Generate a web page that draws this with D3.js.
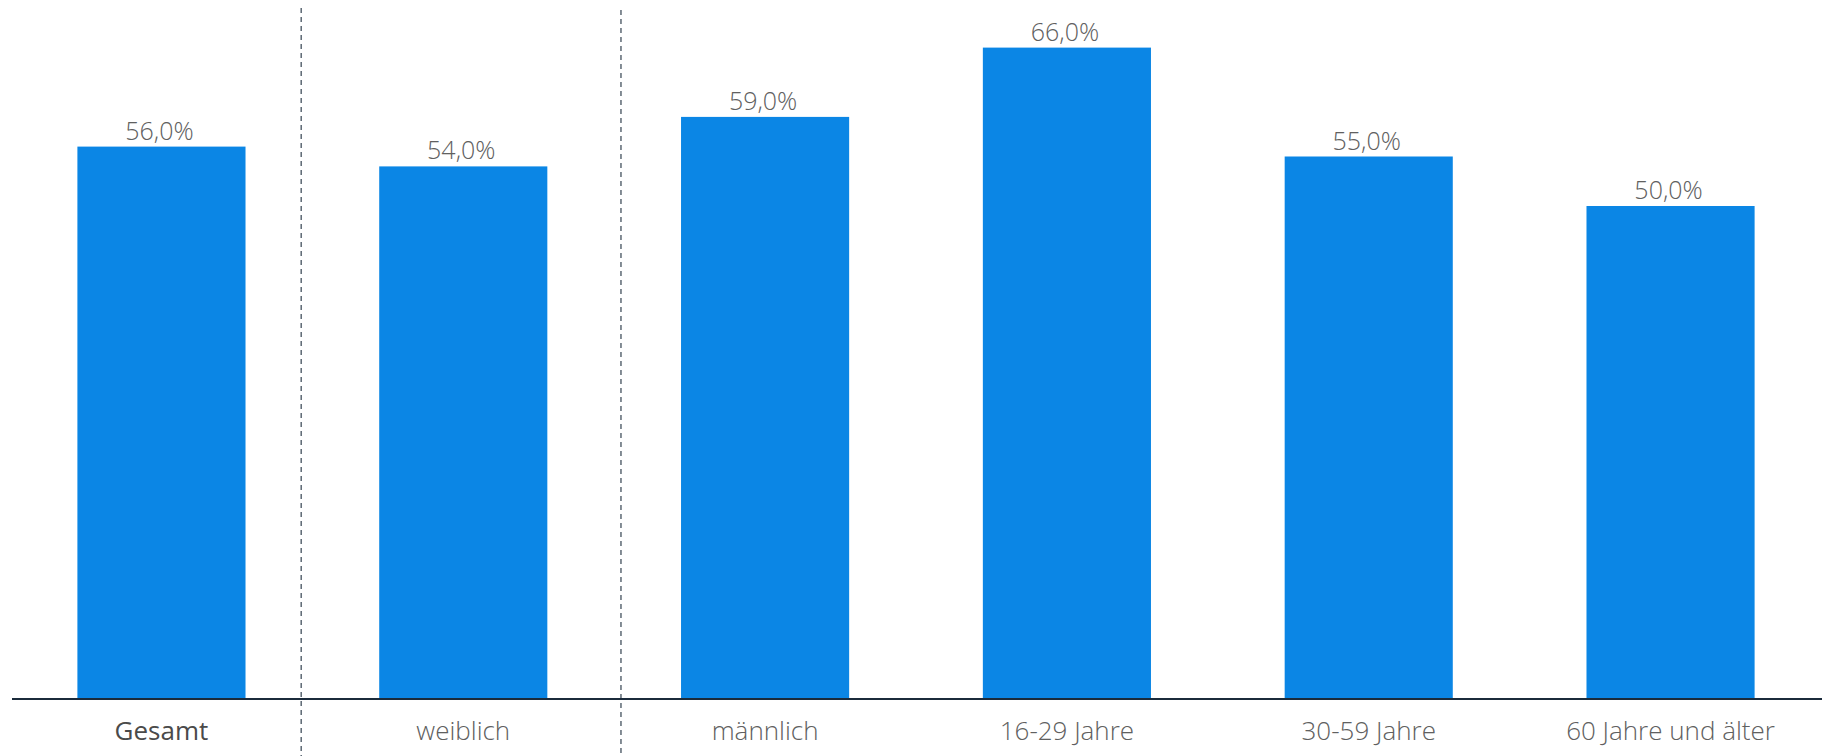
<!DOCTYPE html>
<html lang="de">
<head>
<meta charset="utf-8">
<script src="https://cdn.jsdelivr.net/npm/d3@7"></script>
<style>
  html, body { margin: 0; padding: 0; background: #ffffff; }
  svg { display: block; }
  text { font-family: "Open Sans", "Noto Sans", sans-serif; }
</style>
</head>
<body>
<svg id="chart" width="1825" height="756"></svg>
<script>
// Anteil je Bevölkerungsgruppe (in Prozent)
const categories = ["Gesamt", "weiblich", "männlich", "16-29 Jahre", "30-59 Jahre", "60 Jahre und älter"];
const values = [56, 54, 59, 66, 55, 50];
// Trennlinien zwischen den Gruppen (Gesamt | Geschlecht | Alter), in Slot-Einheiten
const separators = [0.962, 2.022];
const emphasized = ["Gesamt"];

const width = 1825, height = 756;
const svg = d3.select("#chart");

const x = d3.scaleBand()
  .domain(categories)
  .range([11, 1821])
  .paddingInner(0.443)
  .paddingOuter(0.22);

const y = d3.scaleLinear()
  .domain([0, 70])
  .range([701, 8]);

const slot = d3.scaleLinear()
  .domain([0, categories.length])
  .range(x.range());

const fmt = v => d3.format(".1f")(v).replace(".", ",") + "%";

// Balken
svg.append("g")
  .selectAll("rect")
  .data(values)
  .join("rect")
  .attr("x", (d, i) => x(categories[i]))
  .attr("y", d => y(d))
  .attr("width", x.bandwidth())
  .attr("height", d => y(0) - y(d) - 3)
  .attr("fill", "#0b86e5");

// Wertbeschriftungen
svg.append("g")
  .selectAll("text")
  .data(values)
  .join("text")
  .attr("x", (d, i) => x(categories[i]) + x.bandwidth() / 2 - 2)
  .attr("y", d => y(d) - 7)
  .attr("text-anchor", "middle")
  .attr("font-size", 25)
  .attr("font-weight", 300)
  .attr("fill", "#606060")
  .text(d => fmt(d));

// Gestrichelte Trennlinien
svg.append("g")
  .selectAll("line")
  .data(separators)
  .join("line")
  .attr("x1", d => slot(d))
  .attr("x2", d => slot(d))
  .attr("y1", (d, i) => 8 + i * 2)
  .attr("y2", height)
  .attr("stroke", "#5c6873")
  .attr("stroke-width", 1.5)
  .attr("stroke-dasharray", "5,4");

// x-Achse
const xAxis = d3.axisBottom(x).tickSize(0).tickPadding(0);
const gx = svg.append("g")
  .attr("transform", `translate(0, ${y(0) - 2})`)
  .call(xAxis);

gx.select(".domain")
  .attr("d", `M${x.range()[0] + 1},0H${x.range()[1] + 1}`)
  .attr("stroke", "#1b2b3b")
  .attr("stroke-width", 2);

gx.selectAll(".tick text")
  .attr("y", 41)
  .attr("dy", 0)
  .attr("font-size", 26)
  .attr("font-family", "'Open Sans', 'Noto Sans', sans-serif")
  .attr("font-weight", d => emphasized.includes(d) ? 400 : 300)
  .attr("fill", d => emphasized.includes(d) ? "#4a4a4a" : "#606060");
</script>
</body>
</html>
